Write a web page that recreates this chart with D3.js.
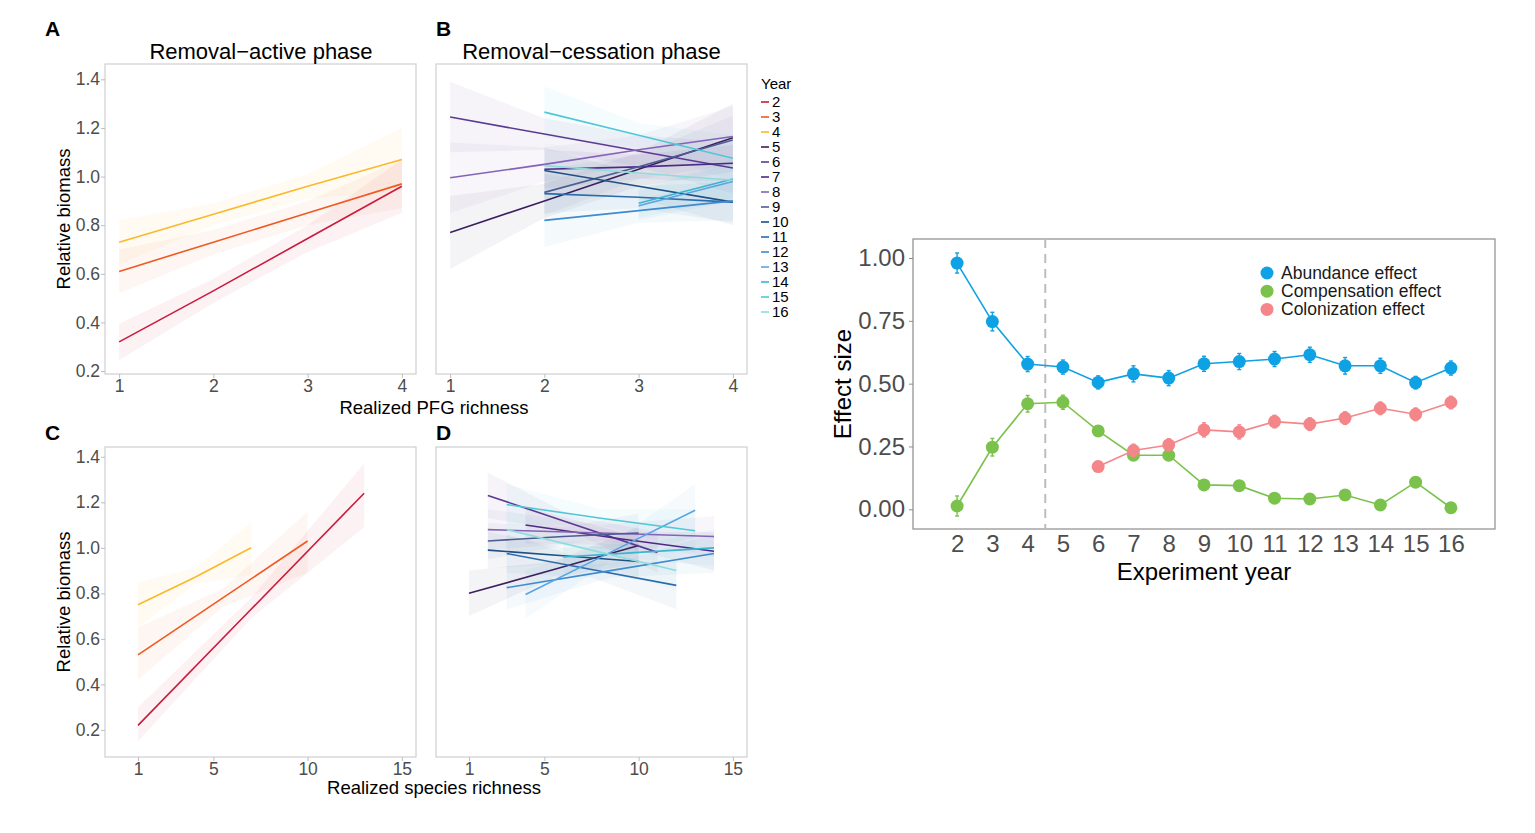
<!DOCTYPE html>
<html>
<head>
<meta charset="utf-8">
<script src="https://cdn.jsdelivr.net/npm/d3@7"></script>
<style>
  body { margin: 0; background: #fff; }
  svg { font-family: "Liberation Sans", Arial, sans-serif; }
</style>
</head>
<body>
<div id="chart"></div>
<script>
// ----------------------------------------------------------------
// Data
// ----------------------------------------------------------------

const years = [2, 3, 4, 5, 6, 7, 8, 9, 10, 11, 12, 13, 14, 15, 16];
const yearColors = ["#cb1b3d", "#f0591f", "#fbb829", "#3d1f5c", "#5a3a92", "#4d2a85", "#8462b8",
  "#4a5e93", "#1e4f85", "#2a6cad", "#3f8bd0", "#5aa4e0", "#3bb4cf", "#4fc8d6", "#8fdcdc"];

// fitted lines with confidence band, realized PFG richness
const pfgActive = [
  {year: 2, x: [1, 2, 3, 4], fit: [0.32, 0.53, 0.745, 0.96], lo: [0.245, 0.48, 0.69, 0.85], hi: [0.395, 0.58, 0.80, 1.07]},
  {year: 3, x: [1, 2, 3, 4], fit: [0.61, 0.73, 0.85, 0.97], lo: [0.52, 0.68, 0.80, 0.87], hi: [0.70, 0.78, 0.90, 1.07]},
  {year: 4, x: [1, 2, 3, 4], fit: [0.73, 0.845, 0.96, 1.07], lo: [0.64, 0.80, 0.91, 0.94], hi: [0.82, 0.89, 1.01, 1.20]}
];
const pfgCessation = [
  {year: 5, x: [1, 2, 3, 4], fit: [0.77, 0.90, 1.03, 1.16], lo: [0.62, 0.83, 0.96, 1.02], hi: [0.92, 0.97, 1.10, 1.30]},
  {year: 6, x: [1, 2, 3, 4], fit: [1.245, 1.175, 1.105, 1.035], lo: [1.10, 1.11, 1.04, 0.93], hi: [1.39, 1.24, 1.17, 1.14]},
  {year: 7, x: [2, 3, 4], fit: [1.03, 1.04, 1.055], lo: [0.95, 0.99, 0.98], hi: [1.11, 1.09, 1.13]},
  {year: 8, x: [1, 2, 3, 4], fit: [0.995, 1.05, 1.11, 1.165], lo: [0.85, 0.98, 1.05, 1.04], hi: [1.14, 1.12, 1.17, 1.29]},
  {year: 9, x: [2, 3, 4], fit: [0.935, 1.04, 1.15], lo: [0.84, 0.99, 1.05], hi: [1.03, 1.09, 1.25]},
  {year: 10, x: [2, 3, 4], fit: [1.025, 0.96, 0.895], lo: [0.93, 0.91, 0.80], hi: [1.12, 1.01, 0.99]},
  {year: 11, x: [2, 3, 4], fit: [0.93, 0.915, 0.895], lo: [0.85, 0.87, 0.81], hi: [1.01, 0.96, 0.98]},
  {year: 12, x: [2, 3, 4], fit: [0.82, 0.86, 0.90], lo: [0.71, 0.81, 0.82], hi: [0.93, 0.91, 0.98]},
  {year: 13, x: [3, 4], fit: [0.88, 0.98], lo: [0.82, 0.90], hi: [0.94, 1.06]},
  {year: 14, x: [3, 4], fit: [0.89, 0.99], lo: [0.83, 0.91], hi: [0.95, 1.07]},
  {year: 15, x: [2, 3, 4], fit: [1.265, 1.17, 1.075], lo: [1.16, 1.12, 0.98], hi: [1.37, 1.22, 1.17]},
  {year: 16, x: [2, 3, 4], fit: [1.045, 1.015, 0.985], lo: [0.95, 0.97, 0.90], hi: [1.14, 1.06, 1.07]}
];

// fitted lines with confidence band, realized species richness
const sppActive = [
  {year: 2, x: [1, 7, 13], fit: [0.22, 0.73, 1.24], lo: [0.15, 0.69, 1.09], hi: [0.30, 0.78, 1.37]},
  {year: 3, x: [1, 5.5, 10], fit: [0.53, 0.78, 1.03], lo: [0.42, 0.74, 0.89], hi: [0.65, 0.82, 1.16]},
  {year: 4, x: [1, 4, 7], fit: [0.75, 0.87, 1.0], lo: [0.65, 0.84, 0.88], hi: [0.85, 0.91, 1.11]}
];
const sppCessation = [
  {year: 5, x: [1, 5.5, 10], fit: [0.80, 0.905, 1.01], lo: [0.70, 0.87, 0.93], hi: [0.90, 0.94, 1.09]},
  {year: 6, x: [2, 6.5, 11], fit: [1.23, 1.105, 0.98], lo: [1.13, 1.07, 0.89], hi: [1.33, 1.14, 1.07]},
  {year: 7, x: [4, 9, 14], fit: [1.10, 1.04, 0.985], lo: [1.02, 1.01, 0.90], hi: [1.18, 1.07, 1.07]},
  {year: 8, x: [2, 8, 14], fit: [1.08, 1.065, 1.05], lo: [0.99, 1.03, 0.96], hi: [1.17, 1.10, 1.14]},
  {year: 9, x: [2, 6, 10], fit: [1.03, 1.05, 1.065], lo: [0.95, 1.01, 0.98], hi: [1.11, 1.09, 1.15]},
  {year: 10, x: [2, 6, 10], fit: [0.99, 0.965, 0.94], lo: [0.91, 0.93, 0.86], hi: [1.07, 1.00, 1.02]},
  {year: 11, x: [3, 7.5, 12], fit: [0.975, 0.905, 0.835], lo: [0.89, 0.87, 0.73], hi: [1.06, 0.94, 0.94]},
  {year: 12, x: [3, 8.5, 14], fit: [0.825, 0.90, 0.975], lo: [0.73, 0.87, 0.89], hi: [0.92, 0.93, 1.06]},
  {year: 13, x: [4, 8.5, 13], fit: [0.795, 0.98, 1.165], lo: [0.69, 0.94, 1.05], hi: [0.90, 1.02, 1.28]},
  {year: 14, x: [6, 10, 14], fit: [0.96, 0.98, 1.00], lo: [0.89, 0.95, 0.92], hi: [1.03, 1.01, 1.08]},
  {year: 15, x: [3, 8, 13], fit: [1.19, 1.13, 1.075], lo: [1.10, 1.10, 0.98], hi: [1.28, 1.17, 1.17]},
  {year: 16, x: [3, 7.5, 12], fit: [1.08, 0.99, 0.90], lo: [0.99, 0.95, 0.81], hi: [1.17, 1.03, 0.99]}
];

// effect sizes by experiment year
const experimentYears = [2, 3, 4, 5, 6, 7, 8, 9, 10, 11, 12, 13, 14, 15, 16];
const abundance = [0.98, 0.747, 0.578, 0.566, 0.505, 0.539, 0.522, 0.579, 0.588, 0.598, 0.615, 0.571, 0.571, 0.504, 0.562];
const abundanceSe = [0.04, 0.037, 0.03, 0.028, 0.026, 0.032, 0.03, 0.03, 0.032, 0.03, 0.03, 0.033, 0.03, 0.025, 0.028];
const compensation = [0.013, 0.247, 0.42, 0.426, 0.312, 0.215, 0.215, 0.097, 0.094, 0.044, 0.041, 0.057, 0.017, 0.108, 0.006];
const compensationSe = [0.04, 0.035, 0.033, 0.028, 0.015, 0.015, 0.015, 0.012, 0.012, 0.01, 0.01, 0.012, 0.01, 0.012, 0.01];
const colonizationYears = [6, 7, 8, 9, 10, 11, 12, 13, 14, 15, 16];
const colonization = [0.17, 0.234, 0.256, 0.316, 0.308, 0.349, 0.339, 0.363, 0.402, 0.378, 0.425];
const colonizationSe = [0.015, 0.025, 0.025, 0.028, 0.028, 0.025, 0.025, 0.025, 0.025, 0.025, 0.025];
const effectNames = ["Abundance effect", "Compensation effect", "Colonization effect"];
const effectColors = ["#0ea1e3", "#7bc24c", "#f4868a"];

// ----------------------------------------------------------------
// Setup
// ----------------------------------------------------------------

const width = 1535, height = 833;
const svg = d3.select("#chart").append("svg")
  .attr("width", width)
  .attr("height", height);
svg.append("rect").attr("width", width).attr("height", height).attr("fill", "#fff");

const colorOf = d3.scaleOrdinal().domain(years).range(yearColors);
const tickGray = "#4d4d4d";
const fontFam = "Liberation Sans, Arial, sans-serif";

/**
 * Draws one small panel of fitted lines with bands
 * */
function drawPanel(opts) {
  const x = d3.scaleLinear().domain(opts.xDomain).range([opts.left, opts.right]);
  const y = d3.scaleLinear().domain(opts.yDomain).range([opts.bottom, opts.top]);
  const g = svg.append("g");

  const area = d3.area()
    .x(d => x(d.x)).y0(d => y(d.lo)).y1(d => y(d.hi));
  const line = d3.line()
    .x(d => x(d.x)).y(d => y(d.fit));

  opts.data.forEach(function (s) {
    const pts = s.x.map((v, i) => ({x: v, fit: s.fit[i], lo: s.lo[i], hi: s.hi[i]}));
    s.pts = pts;
    g.append("path").datum(pts)
      .attr("d", area)
      .attr("fill", colorOf(s.year))
      .attr("fill-opacity", 0.055);
  });
  opts.data.forEach(function (s) {
    g.append("path").datum(s.pts)
      .attr("d", line)
      .attr("fill", "none")
      .attr("stroke", colorOf(s.year))
      .attr("stroke-width", 1.6);
  });

  g.append("rect")
    .attr("x", opts.left).attr("y", opts.top)
    .attr("width", opts.right - opts.left).attr("height", opts.bottom - opts.top)
    .attr("fill", "none").attr("stroke", "#cfcfcf").attr("stroke-width", 1.2);

  const xAxis = g.append("g")
    .attr("transform", "translate(0," + opts.bottom + ")")
    .call(d3.axisBottom(x).tickValues(opts.xTicks).tickFormat(d3.format("d"))
      .tickSize(4).tickPadding(2));
  xAxis.select(".domain").remove();
  xAxis.selectAll("line").attr("stroke", "#bdbdbd");
  xAxis.selectAll("text").attr("fill", tickGray).attr("font-size", 17.5)
    .attr("font-family", fontFam);

  if (opts.yAxis) {
    const yAxis = g.append("g")
      .attr("transform", "translate(" + opts.left + ",0)")
      .call(d3.axisLeft(y).tickValues([0.2, 0.4, 0.6, 0.8, 1.0, 1.2, 1.4])
        .tickFormat(d3.format(".1f")).tickSize(4).tickPadding(1));
    yAxis.select(".domain").remove();
    yAxis.selectAll("line").attr("stroke", "#bdbdbd");
    yAxis.selectAll("text").attr("fill", tickGray).attr("font-size", 17.5)
      .attr("font-family", fontFam);

    svg.append("text")
      .attr("transform", "translate(70," + ((opts.top + opts.bottom) / 2) + ") rotate(-90)")
      .attr("text-anchor", "middle")
      .attr("font-size", 18.5)
      .text("Relative biomass");
  }
}

// ----------------------------------------------------------------
// Panels A-D
// ----------------------------------------------------------------

const pfgY = [0.188, 1.463];
const sppY = [0.081, 1.443];
const sppX = [-0.75, 15.75];

drawPanel({data: pfgActive, left: 105, right: 416, top: 64, bottom: 374,
  xDomain: [0.85, 4.15], yDomain: pfgY, xTicks: [1, 2, 3, 4], yAxis: true});
drawPanel({data: pfgCessation, left: 436, right: 747, top: 64, bottom: 374,
  xDomain: [0.85, 4.15], yDomain: pfgY, xTicks: [1, 2, 3, 4], yAxis: false});
drawPanel({data: sppActive, left: 105, right: 416, top: 447, bottom: 757,
  xDomain: sppX, yDomain: sppY, xTicks: [1, 5, 10, 15], yAxis: true});
drawPanel({data: sppCessation, left: 436, right: 747, top: 447, bottom: 757,
  xDomain: sppX, yDomain: sppY, xTicks: [1, 5, 10, 15], yAxis: false});

// panel letters and titles
[["A", 45, 36], ["B", 436, 36], ["C", 45, 440], ["D", 436, 440]].forEach(function (p) {
  svg.append("text").attr("x", p[1]).attr("y", p[2])
    .attr("font-size", 21).attr("font-weight", "bold").text(p[0]);
});
svg.append("text").attr("x", 261).attr("y", 59).attr("text-anchor", "middle")
  .attr("font-size", 22).text("Removal\u2212active phase");
svg.append("text").attr("x", 591.5).attr("y", 59).attr("text-anchor", "middle")
  .attr("font-size", 22).text("Removal\u2212cessation phase");

svg.append("text").attr("x", 434).attr("y", 414).attr("text-anchor", "middle")
  .attr("font-size", 18.5).text("Realized PFG richness");
svg.append("text").attr("x", 434).attr("y", 794).attr("text-anchor", "middle")
  .attr("font-size", 18.5).text("Realized species richness");

// year legend
const legend = svg.append("g").attr("transform", "translate(760,0)");
legend.append("text").attr("x", 1).attr("y", 89).attr("font-size", 15).text("Year");
const ly = d3.scalePoint().domain(years).range([102, 312]);
years.forEach(function (yr) {
  legend.append("line")
    .attr("x1", 1).attr("x2", 9).attr("y1", ly(yr)).attr("y2", ly(yr))
    .attr("stroke", colorOf(yr)).attr("stroke-width", 1.6);
  legend.append("text")
    .attr("x", 12).attr("y", ly(yr) + 5)
    .attr("font-size", 15).text(yr);
});

// ----------------------------------------------------------------
// Effect size chart
// ----------------------------------------------------------------

const ex = d3.scaleLinear().domain([0.75, 17.25]).range([913, 1495]);
const ey = d3.scaleLinear().domain([-0.0785, 1.0757]).range([529, 239]);
const eg = svg.append("g");

eg.append("rect")
  .attr("x", 913).attr("y", 239).attr("width", 582).attr("height", 290)
  .attr("fill", "none").attr("stroke", "#8c8c8c").attr("stroke-width", 1.2);

eg.append("line")
  .attr("x1", ex(4.5)).attr("x2", ex(4.5)).attr("y1", 239).attr("y2", 529)
  .attr("stroke", "#bdbdbd").attr("stroke-width", 2).attr("stroke-dasharray", "9,6");

const exAxis = eg.append("g").attr("transform", "translate(0,529)")
  .call(d3.axisBottom(ex).tickValues(experimentYears).tickSize(0).tickPadding(6));
exAxis.select(".domain").remove();
exAxis.selectAll("text").attr("fill", tickGray).attr("font-size", 24)
  .attr("font-family", fontFam);

const eyAxis = eg.append("g").attr("transform", "translate(913,0)")
  .call(d3.axisLeft(ey).tickValues([0, 0.25, 0.5, 0.75, 1]).tickFormat(d3.format(".2f"))
    .tickSize(4).tickPadding(4));
eyAxis.select(".domain").remove();
eyAxis.selectAll("line").attr("stroke", "#8c8c8c");
eyAxis.selectAll("text").attr("fill", tickGray).attr("font-size", 24)
  .attr("font-family", fontFam);

svg.append("text")
  .attr("transform", "translate(851,384) rotate(-90)")
  .attr("text-anchor", "middle").attr("font-size", 24).text("Effect size");
svg.append("text").attr("x", 1204).attr("y", 580).attr("text-anchor", "middle")
  .attr("font-size", 24).text("Experiment year");

const effectSeries = [
  {yrs: experimentYears, val: abundance, se: abundanceSe, color: effectColors[0]},
  {yrs: experimentYears, val: compensation, se: compensationSe, color: effectColors[1]},
  {yrs: colonizationYears, val: colonization, se: colonizationSe, color: effectColors[2]}
];

effectSeries.forEach(function (s) {
  const pts = s.yrs.map((yr, i) => ({x: yr, v: s.val[i], se: s.se[i]}));
  eg.append("path").datum(pts)
    .attr("d", d3.line().x(d => ex(d.x)).y(d => ey(d.v)))
    .attr("fill", "none").attr("stroke", s.color).attr("stroke-width", 1.6);
  const bars = eg.append("g").selectAll("g").data(pts).join("g");
  bars.append("line")
    .attr("x1", d => ex(d.x)).attr("x2", d => ex(d.x))
    .attr("y1", d => ey(d.v - d.se)).attr("y2", d => ey(d.v + d.se))
    .attr("stroke", s.color).attr("stroke-width", 1.4);
  [-1, 1].forEach(function (sg) {
    bars.append("line")
      .attr("x1", d => ex(d.x) - 2).attr("x2", d => ex(d.x) + 2)
      .attr("y1", d => ey(d.v + sg * d.se)).attr("y2", d => ey(d.v + sg * d.se))
      .attr("stroke", s.color).attr("stroke-width", 1.4);
  });
  eg.append("g").selectAll("circle").data(pts).join("circle")
    .attr("cx", d => ex(d.x)).attr("cy", d => ey(d.v)).attr("r", 6.5)
    .attr("fill", s.color);
});

// effect legend
effectNames.forEach(function (name, i) {
  const yy = 273 + i * 18.2;
  eg.append("circle").attr("cx", 1267).attr("cy", yy).attr("r", 6.5).attr("fill", effectColors[i]);
  eg.append("text").attr("x", 1281).attr("y", yy + 6).attr("font-size", 17.5).attr("fill", "#1a1a1a").text(name);
});
</script>
</body>
</html>
